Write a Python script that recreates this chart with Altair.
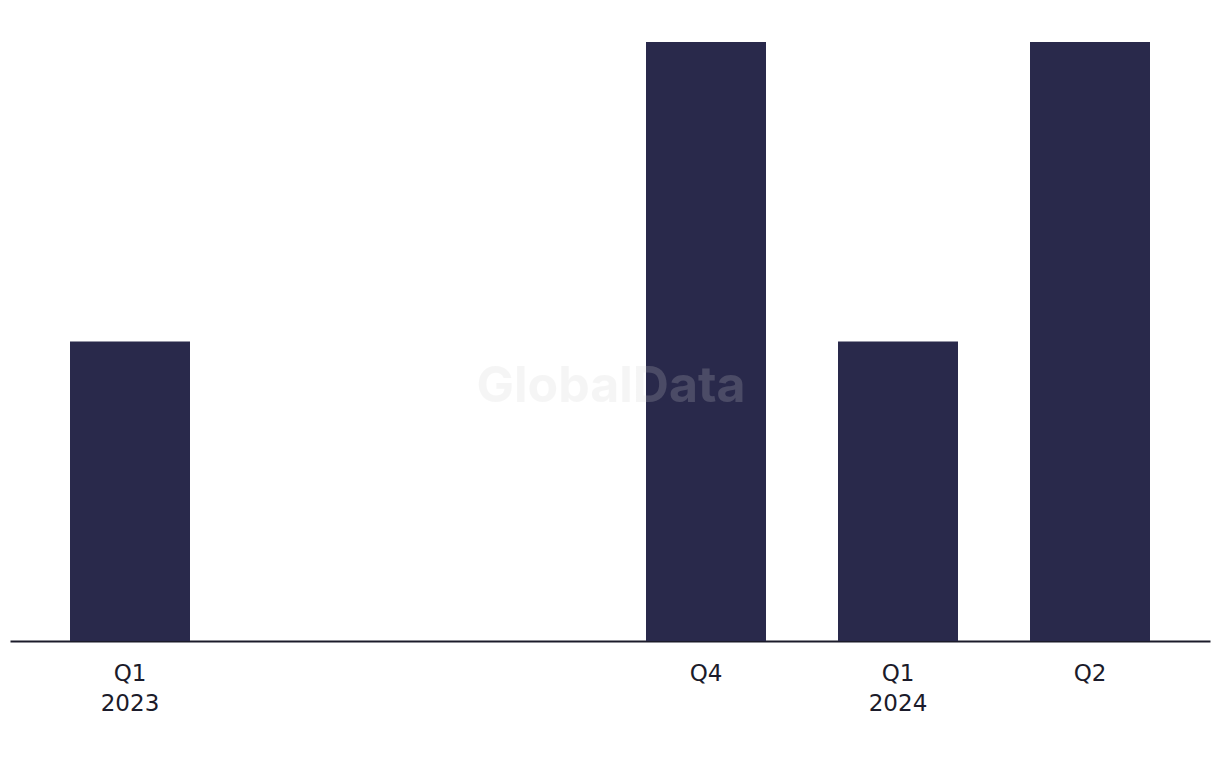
import altair as alt
import pandas as pd

categories = ["Q1 2023", "Q2 2023", "Q3 2023", "Q4 2023", "Q1 2024", "Q2 2024"]
values = [1, 0, 0, 2, 1, 2]
tick_labels = [["Q1", "2023"], [""], [""], ["Q4"], ["Q1", "2024"], ["Q2"]]

df = pd.DataFrame({"period": categories, "value": values})

# build label expression from tick labels
expr = "''"
for cat, lab in reversed(list(zip(categories, tick_labels))):
    arr = "[" + ",".join("'" + s + "'" for s in lab) + "]"
    expr = f"datum.value == '{cat}' ? {arr} : ({expr})"

FONT = "DejaVu Sans"

bars = alt.Chart(df).mark_bar(color="#29294b").encode(
    x=alt.X(
        "period:N",
        sort=categories,
        scale=alt.Scale(paddingInner=0.375, paddingOuter=0.3125),
        axis=alt.Axis(
            title=None,
            labelExpr=expr,
            labelAngle=0,
            labelFont=FONT,
            labelFontSize=23,
            labelLineHeight=30,
            labelColor="#1b1b2a",
            labelPadding=21,
            ticks=False,
            domainColor="#1b1b2a",
            domainWidth=2,
            grid=False,
        ),
    ),
    y=alt.Y(
        "value:Q",
        scale=alt.Scale(domain=[0, 2], nice=False),
        axis=None,
    ),
)

watermark = alt.Chart(pd.DataFrame({"t": ["GlobalData"]})).mark_text(
    font="Inter",
    fontSize=50,
    fontWeight="bold",
    color="#d2d2d2",
    opacity=0.2,
    align="center",
    baseline="middle",
).encode(text="t:N", x=alt.value(601), y=alt.value(345))

chart = alt.layer(bars, watermark).properties(
    width=1200,
    height=599,
    padding={"left": 2, "top": 34, "right": 2, "bottom": 5},
).configure(background="white").configure_view(stroke=None, strokeWidth=0)

chart.save("out.html", embed_options={"renderer": "svg", "actions": False})
